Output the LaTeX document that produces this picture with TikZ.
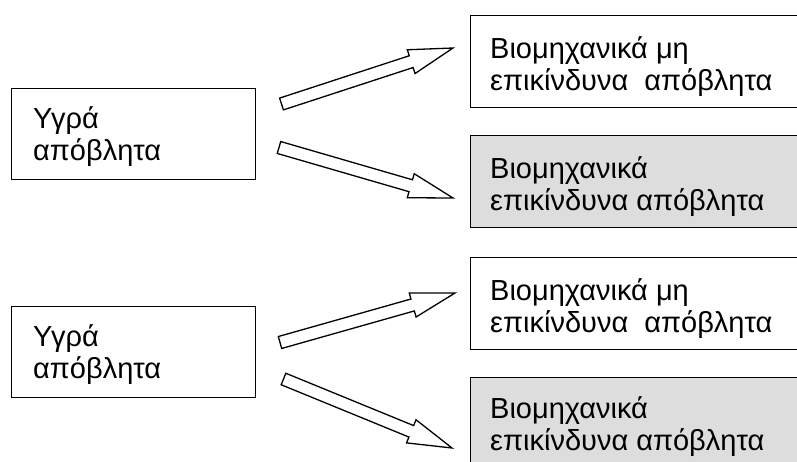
\documentclass[tikz,border=0pt]{standalone}
\usepackage{fontspec}
\setmainfont{Liberation Sans}
\usetikzlibrary{calc}
\definecolor{boxgray}{HTML}{DDDDDD}
\newcommand\tallstrut{\rule{0pt}{25pt}}
\tikzset{
  box/.style={draw=black, line width=1.3pt, rectangle, inner sep=0pt, anchor=north west},
  leftbox/.style={box, minimum width=244pt, minimum height=91pt},
  rightbox/.style={box, minimum width=345pt, minimum height=92pt},
  rightgray/.style={rightbox, fill=boxgray},
  txt/.style={anchor=north west, inner sep=0pt, align=left, font=\fontsize{29}{32}\selectfont},
  blk/.style={draw=black, line width=1.3pt, fill=white, line join=miter},
}
\newcommand\blockarrow[2]{%
  \path ($(#2)!44pt!(#1)$) coordinate (#1b);
  \draw[blk] ($(#1)!6.2pt!90:(#2)$) -- ($(#1b)!6.2pt!90:(#2)$) -- ($(#1b)!12.5pt!90:(#2)$) -- (#2)
    -- ($(#1b)!12.5pt!-90:(#2)$) -- ($(#1b)!6.2pt!-90:(#2)$) -- ($(#1)!6.2pt!-90:(#2)$) -- cycle;
}
\begin{document}
\begin{tikzpicture}[x=1pt,y=-1pt]
\useasboundingbox (0,0) rectangle (797,462);
\clip (0,0) rectangle (797,462);
% boxes
\node[leftbox] (L1) at (11,88) {};
\node[leftbox] (L2) at (11,306) {};
\node[rightbox] (R1) at (470,15) {};
\node[rightgray] (R2) at (470,135) {};
\node[rightbox] (R3) at (470,257) {};
\node[rightgray] (R4) at (470,377) {};
% texts
\node[txt] (L1t) at ($(L1.north west)+(22,15)$) {\tallstrut Υγρά\\απόβλητα};
\node[txt] (L2t) at ($(L2.north west)+(22,15)$) {\tallstrut Υγρά\\απόβλητα};
\node[txt] (R1t) at ($(R1.north west)+(20,18)$) {\tallstrut Βιομηχανικά μη\\επικίνδυνα\ \ απόβλητα};
\node[txt] (R2t) at ($(R2.north west)+(20,18)$) {\tallstrut Βιομηχανικά\\επικίνδυνα απόβλητα};
\node[txt] (R3t) at ($(R3.north west)+(20,18)$) {\tallstrut Βιομηχανικά μη\\επικίνδυνα\ \ απόβλητα};
\node[txt] (R4t) at ($(R4.north west)+(20,16)$) {\tallstrut Βιομηχανικά\\επικίνδυνα απόβλητα};
% arrows
\coordinate (a1t) at (281.5,104); \coordinate (a1h) at (453,48);
\coordinate (a2t) at (279,147.5); \coordinate (a2h) at (453,198);
\coordinate (a3t) at (280,342.5); \coordinate (a3h) at (455,293);
\coordinate (a4t) at (283.5,379); \coordinate (a4h) at (452,448);
\blockarrow{a1t}{a1h}
\blockarrow{a2t}{a2h}
\blockarrow{a3t}{a3h}
\blockarrow{a4t}{a4h}
\end{tikzpicture}
\end{document}
